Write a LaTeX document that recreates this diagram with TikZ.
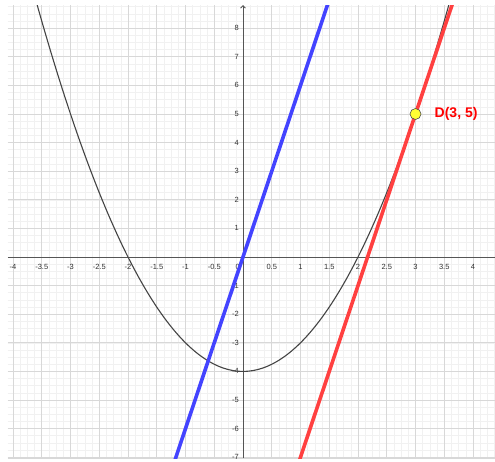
\documentclass[tikz,border=0pt]{standalone}
\usepackage{fontspec}
\setmainfont{Liberation Sans}
\usetikzlibrary{arrows.meta}
\definecolor{minorgrid}{HTML}{F1F1F1}
\definecolor{majorgrid}{HTML}{D8D8D8}
\definecolor{axiscol}{HTML}{555555}
\definecolor{curvecol}{HTML}{444444}
\definecolor{blueline}{HTML}{4343FF}
\definecolor{redline}{HTML}{FF4040}
\definecolor{pointfill}{HTML}{FFFF33}
\tikzset{
  minorline/.style={draw=minorgrid, line width=0.6pt},
  majorline/.style={draw=majorgrid, line width=0.9pt},
  axisline/.style={draw=axiscol, line width=0.9pt},
  ticklabel/.style={font=\fontsize{7.5}{8.5}\selectfont, text=black!80, inner sep=0pt},
  parab/.style={draw=curvecol, line width=1.1pt},
  thickline/.style={line width=3.6pt},
  ptstyle/.style={circle, draw=black!70, fill=pointfill, line width=0.6pt, minimum size=11pt, inner sep=0pt},
  ptlabel/.style={font=\bfseries\fontsize{14}{16}\selectfont, text=red, inner sep=0pt, anchor=west}
}
\begin{document}
\begin{tikzpicture}[x=57.5pt, y=28.6pt]
\useasboundingbox (-4.2261,-7.1329) rectangle (4.3826,8.9860);
\fill[white] (-4.2261,-7.1329) rectangle (4.3826,8.9860);
\def\xl{-4.087}\def\xr{4.3826}\def\yb{-7.03}\def\yt{8.81}
% minor grid
\foreach \i in {-32,...,35} \draw[minorline] (\i/8,\yb) -- (\i/8,\yt);
\foreach \j in {-28,...,35} \draw[minorline] (\xl,\j/4) -- (\xr,\j/4);
% major grid
\foreach \i in {-8,...,8} \draw[majorline] (\i/2,\yb) -- (\i/2,\yt);
\foreach \j in {-7,...,8} \draw[majorline] (\xl,\j) -- (\xr,\j);
\draw[majorline] (\xl,\yb) -- (\xr,\yb);
% axes
\coordinate (xa) at (\xl,0);
\coordinate (xb) at (\xr,0);
\coordinate (ya) at (0,\yb);
\coordinate (yb) at (0,\yt);
\draw[axisline] (xa) -- (xb);
\draw[axisline, -{Straight Barb[length=2.5pt,width=5pt]}] (ya) -- (yb);
% x tick labels
\foreach \v/\t in {-4/-4,-3.5/-3.5,-3/-3,-2.5/-2.5,-2/-2,-1.5/-1.5,-1/-1,-0.5/-0.5,0.5/0.5,1/1,1.5/1.5,2/2,2.5/2.5,3/3,3.5/3.5,4/4}
  \node[ticklabel, anchor=north] at ([yshift=-7pt]\v,0) {\t};
\node[ticklabel, anchor=north east] at ([xshift=-3pt,yshift=-7pt]0,0) {0};
% y tick labels
\foreach \v in {-7,...,-1,1,2,...,8}
  \node[ticklabel, anchor=east] at ([xshift=-4pt]0,\v) {\v};
% curves
\begin{scope}
\clip (\xl,\yb) rectangle (\xr,\yt);
\draw[parab] plot[domain=-3.75:3.75, samples=200, smooth] (\x,{\x*\x-4});
\coordinate (b1) at (-1.2,-7.2);
\coordinate (b2) at (1.5,9);
\draw[thickline, draw=blueline] (b1) -- (b2);
\coordinate (r1) at (0.95,-7.3);
\coordinate (r2) at (3.7,9.2);
\draw[thickline, draw=redline] (r1) -- (r2);
\end{scope}
% point D
\node[ptstyle] (D) at (3,5) {};
\node[ptlabel] (Dl) at ([xshift=19pt]3,5) {D(3, 5)};
\end{tikzpicture}
\end{document}
